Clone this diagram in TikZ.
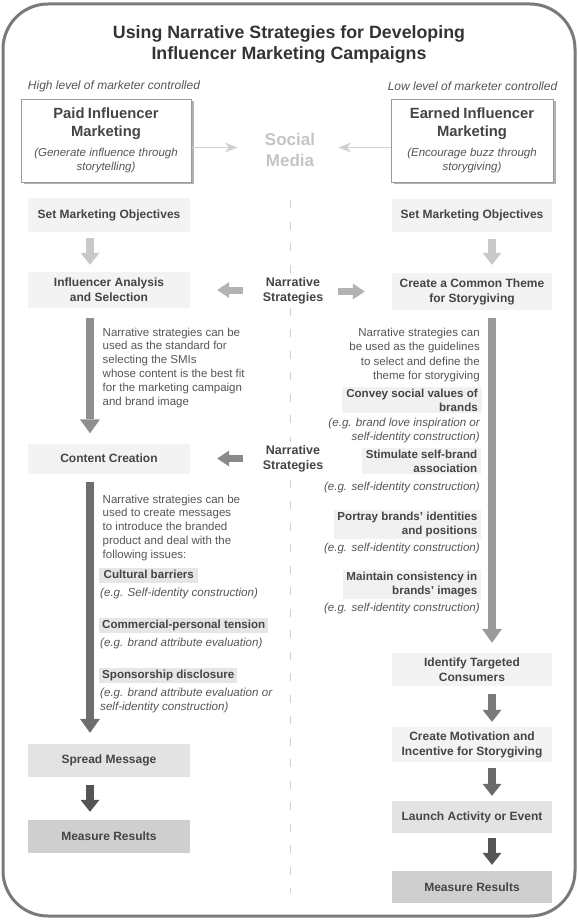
\documentclass[tikz,border=0pt]{standalone}
\usepackage{fontspec}
\setmainfont{Liberation Sans}
\usetikzlibrary{arrows.meta,shadows}
\definecolor{framec}{HTML}{7A7A7A}
\definecolor{titlec}{HTML}{333333}
\definecolor{boxtxt}{HTML}{454545}
\definecolor{txt}{HTML}{555555}
\definecolor{socialc}{HTML}{C4C4C4}
\definecolor{lightbox}{HTML}{F3F3F3}
\definecolor{midbox}{HTML}{E3E3E3}
\definecolor{darkbox}{HTML}{CFCFCF}
\definecolor{hlleft}{HTML}{E6E6E6}
\definecolor{hlright}{HTML}{F1F1F1}
\definecolor{arA}{HTML}{C9C9C9}
\definecolor{arB}{HTML}{B3B3B3}
\definecolor{arC}{HTML}{8F8F8F}
\definecolor{arD}{HTML}{9A9A9A}
\definecolor{arE}{HTML}{8A8A8A}
\definecolor{arF}{HTML}{6E6E6E}
\definecolor{arG}{HTML}{7A7A7A}
\definecolor{arH}{HTML}{6A6A6A}
\definecolor{arI}{HTML}{555555}
\definecolor{divc}{HTML}{D0D0D0}
\definecolor{infoborder}{HTML}{999999}
\definecolor{thinc}{HTML}{D2D2D2}
\tikzset{
  frame/.style={draw=framec, line width=3pt, rounded corners=45pt},
  divline/.style={draw=divc, line width=1pt, dash pattern=on 8pt off 13.5pt},
  stepbox/.style={inner sep=0pt, align=center, text=boxtxt,
    font=\fontsize{12}{15}\selectfont\bfseries},
  leftbox/.style={stepbox, minimum width=162pt},
  rightbox/.style={stepbox, minimum width=160pt},
  infobox/.style={draw=infoborder, line width=0.8pt, fill=white,
    drop shadow={shadow xshift=2.5pt, shadow yshift=-2.5pt, opacity=0.3, fill=black},
    align=center, minimum height=83pt, inner xsep=2pt, inner ysep=0pt},
  bodytext/.style={font=\fontsize{11.5}{13.8}\selectfont, text=txt, inner sep=0pt},
  hl/.style={font=\fontsize{11.6}{13.5}\selectfont\bfseries, text=boxtxt,
    inner xsep=3.5pt, inner ysep=2pt},
  example/.style={font=\fontsize{11.6}{14}\selectfont\itshape, text=txt, inner sep=0pt},
  narr/.style={font=\fontsize{12.5}{15}\selectfont\bfseries, text=boxtxt,
    fill=white, inner sep=3pt, align=center},
  fatv/.style={line width=8.5pt, -{Triangle[width=19pt,length=12pt,line width=0pt]}},
  fatbig/.style={line width=8.5pt, -{Triangle[width=20pt,length=14pt,line width=0pt]}},
  fath/.style={line width=7pt, -{Triangle[width=16pt,length=12pt,line width=0pt]}},
  thinar/.style={draw=thinc, line width=1.3pt, -{Stealth[width=10pt,length=13pt,inset=4pt,line width=0pt]}}
}
\begin{document}
\begin{tikzpicture}[x=1pt,y=-1pt]
\useasboundingbox (0,0) rectangle (578,920);
\draw[frame] (3,4) rectangle (575,916);

\node[font=\fontsize{17.8}{21}\selectfont\bfseries, text=titlec, align=center, inner sep=0pt]
  (title) at (289,44.5) {Using Narrative Strategies for Developing\\Influencer Marketing Campaigns};

\node[font=\fontsize{12}{14}\selectfont\itshape, text=txt, inner sep=0pt] (high) at (114,86) {High level of marketer controlled};
\node[font=\fontsize{12}{14}\selectfont\itshape, text=txt, inner sep=0pt] (low) at (472.5,86) {Low level of marketer controlled};

\node[infobox, text width=166pt] (paid) at (106,140.5)
  {{\fontsize{14.8}{18}\selectfont\bfseries\color{boxtxt} Paid Influencer\\Marketing\par}\vspace{6pt}%
   {\fontsize{11.5}{14}\selectfont\itshape\color{txt} (Generate influence through\\storytelling)\par}};
\node[infobox, text width=158pt] (earned) at (472,140.5)
  {{\fontsize{14.8}{18}\selectfont\bfseries\color{boxtxt} Earned Influencer\\Marketing\par}\vspace{6pt}%
   {\fontsize{11.5}{14}\selectfont\itshape\color{txt} (Encourage buzz through\\storygiving)\par}};

\node[font=\fontsize{17}{20.5}\selectfont\bfseries, text=socialc, align=center, inner sep=0pt]
  (social) at (290,150) {Social\\Media};

\coordinate (smy) at (0,147.5);
\draw[thinar] (paid.east |- smy) -- (social.west |- smy) [shorten <=1pt, shorten >=27pt];
\draw[thinar] (earned.west |- smy) -- (social.east |- smy) [shorten >=23pt];

% divider
\coordinate (dtop) at (290,200);
\coordinate (dbot) at (290,893);
\draw[divline] (dtop) -- (dbot);

% left column
\node[leftbox, fill=lightbox, minimum height=34pt] (lsmo) at (109,215) {Set Marketing Objectives};
\node[leftbox, fill=lightbox, minimum height=36pt] (ias) at (109,290) {Influencer Analysis\\and Selection};
\node[leftbox, fill=lightbox, minimum height=30pt] (cc) at (109,458.5) {Content Creation};
\node[leftbox, fill=midbox, minimum height=33pt] (sm) at (109,760.5) {Spread Message};
\node[leftbox, fill=darkbox, minimum height=33pt] (lmr) at (109,836.5) {Measure Results};

% right column
\node[rightbox, fill=lightbox, minimum height=33pt] (rsmo) at (472,215) {Set Marketing Objectives};
\node[rightbox, fill=lightbox, minimum height=37pt] (cct) at (472,291.5) {Create a Common Theme\\for Storygiving};
\node[rightbox, fill=lightbox, minimum height=33pt] (itc) at (472,669.5) {Identify Targeted\\Consumers};
\node[rightbox, fill=lightbox, minimum height=35pt] (cmi) at (472,744.5) {Create Motivation and\\Incentive for Storygiving};
\node[rightbox, fill=midbox, minimum height=32pt] (lae) at (472,817) {Launch Activity or Event};
\node[rightbox, fill=darkbox, minimum height=32pt] (rmr) at (472,887) {Measure Results};

% narrative strategies labels
\node[narr] (ns1) at (293,290.5) {Narrative\\Strategies};
\node[narr] (ns2) at (293,458.5) {Narrative\\Strategies};

% arrow x positions
\coordinate (lax) at (90,0);
\coordinate (rax) at (492,0);

% left texts
\node[bodytext, align=left, anchor=north west] (t1) at (102.5,327.6)
  {Narrative strategies can be\\used as the standard for\\selecting the SMIs\\whose content is the best fit\\for the marketing campaign\\and brand image};
\node[bodytext, align=left, anchor=north west] (t2) at (102.5,494.6)
  {Narrative strategies can be\\used to create messages\\to introduce the branded\\product and deal with the\\following issues:};
\node[hl, fill=hlleft, anchor=west, inner xsep=4.5pt, text height=8.5pt, text depth=2.5pt] (cb) at (99,575.5) {Cultural barriers};
\node[example, anchor=base west] (cbx) at (100,596) {(e.g. Self-identity construction)};
\node[hl, fill=hlleft, anchor=west, inner xsep=3pt, text height=8.5pt, text depth=2.5pt] (cpt) at (99,625.5) {Commercial-personal tension};
\node[example, anchor=base west] (cptx) at (100,646) {(e.g. brand attribute evaluation)};
\node[hl, fill=hlleft, anchor=west, inner xsep=3pt, text height=8.5pt, text depth=2.5pt] (sd) at (99,675.5) {Sponsorship disclosure};
\node[example, align=left, anchor=north west] (sdx) at (100,687.6) {(e.g. brand attribute evaluation or\\self-identity construction)};

% right texts
\node[bodytext, font=\fontsize{11.5}{14.6}\selectfont, align=right, anchor=north east] (t3) at (480,327.6)
  {Narrative strategies can\\be used as the guidelines\\to select and define the\\theme for storygiving};
\node[hl, fill=hlright, align=right, anchor=north east, inner xsep=4pt] (csv) at (482,387) {Convey social values of\\brands};
\node[example, align=right, anchor=north east] (csvx) at (480,417.6) {(e.g. brand love inspiration or\\self-identity construction)};
\node[hl, fill=hlright, align=right, anchor=north east] (ssb) at (481,448) {Stimulate self-brand\\association};
\node[example, anchor=base east] (ssbx) at (480,490) {(e.g. self-identity construction)};
\node[hl, fill=hlright, align=right, anchor=north east] (pbi) at (481,510) {Portray brands' identities\\and positions};
\node[example, anchor=base east] (pbix) at (480,551) {(e.g. self-identity construction)};
\node[hl, fill=hlright, align=right, anchor=north east] (mci) at (481,570) {Maintain consistency in\\brands' images};
\node[example, anchor=base east] (mcix) at (480,611) {(e.g. self-identity construction)};

% arrows left
\draw[fatv, draw=arA, fill=arA] (lsmo.south -| lax) -- (ias.north -| lax) [shorten <=6pt, shorten >=7pt];
\draw[fatbig, draw=arC, fill=arC] (ias.south -| lax) -- (cc.north -| lax) [shorten <=10pt, shorten >=10pt];
\draw[fatbig, draw=arF, fill=arF] (cc.south -| lax) -- (sm.north -| lax) [shorten <=8pt, shorten >=11pt];
\draw[fatv, draw=arI, fill=arI] (sm.south -| lax) -- (lmr.north -| lax) [shorten <=8pt, shorten >=8pt];

% arrows right
\draw[fatv, draw=arA, fill=arA] (rsmo.south -| rax) -- (cct.north -| rax) [shorten <=7.5pt, shorten >=8pt];
\draw[fatbig, draw=arD, fill=arD] (cct.south -| rax) -- (itc.north -| rax) [shorten <=8pt, shorten >=10pt];
\draw[fatv, draw=arG, fill=arG] (itc.south -| rax) -- (cmi.north -| rax) [shorten <=8pt, shorten >=5pt];
\draw[fatv, draw=arH, fill=arH] (cmi.south -| rax) -- (lae.north -| rax) [shorten <=6pt, shorten >=5pt];
\draw[fatv, draw=arI, fill=arI] (lae.south -| rax) -- (rmr.north -| rax) [shorten <=5pt, shorten >=6pt];

% horizontal arrows
\draw[fath, draw=arB, fill=arB] (ns1.west |- ias.east) -- (ias.east) [shorten <=17pt, shorten >=27pt];
\draw[fath, draw=arB, fill=arB] (ns1.east |- cct.west) -- (cct.west) [shorten <=12pt, shorten >=27pt];
\draw[fath, draw=arE, fill=arE] (ns2.west |- cc.east) -- (cc.east) [shorten <=17pt, shorten >=27pt];
\end{tikzpicture}
\end{document}
